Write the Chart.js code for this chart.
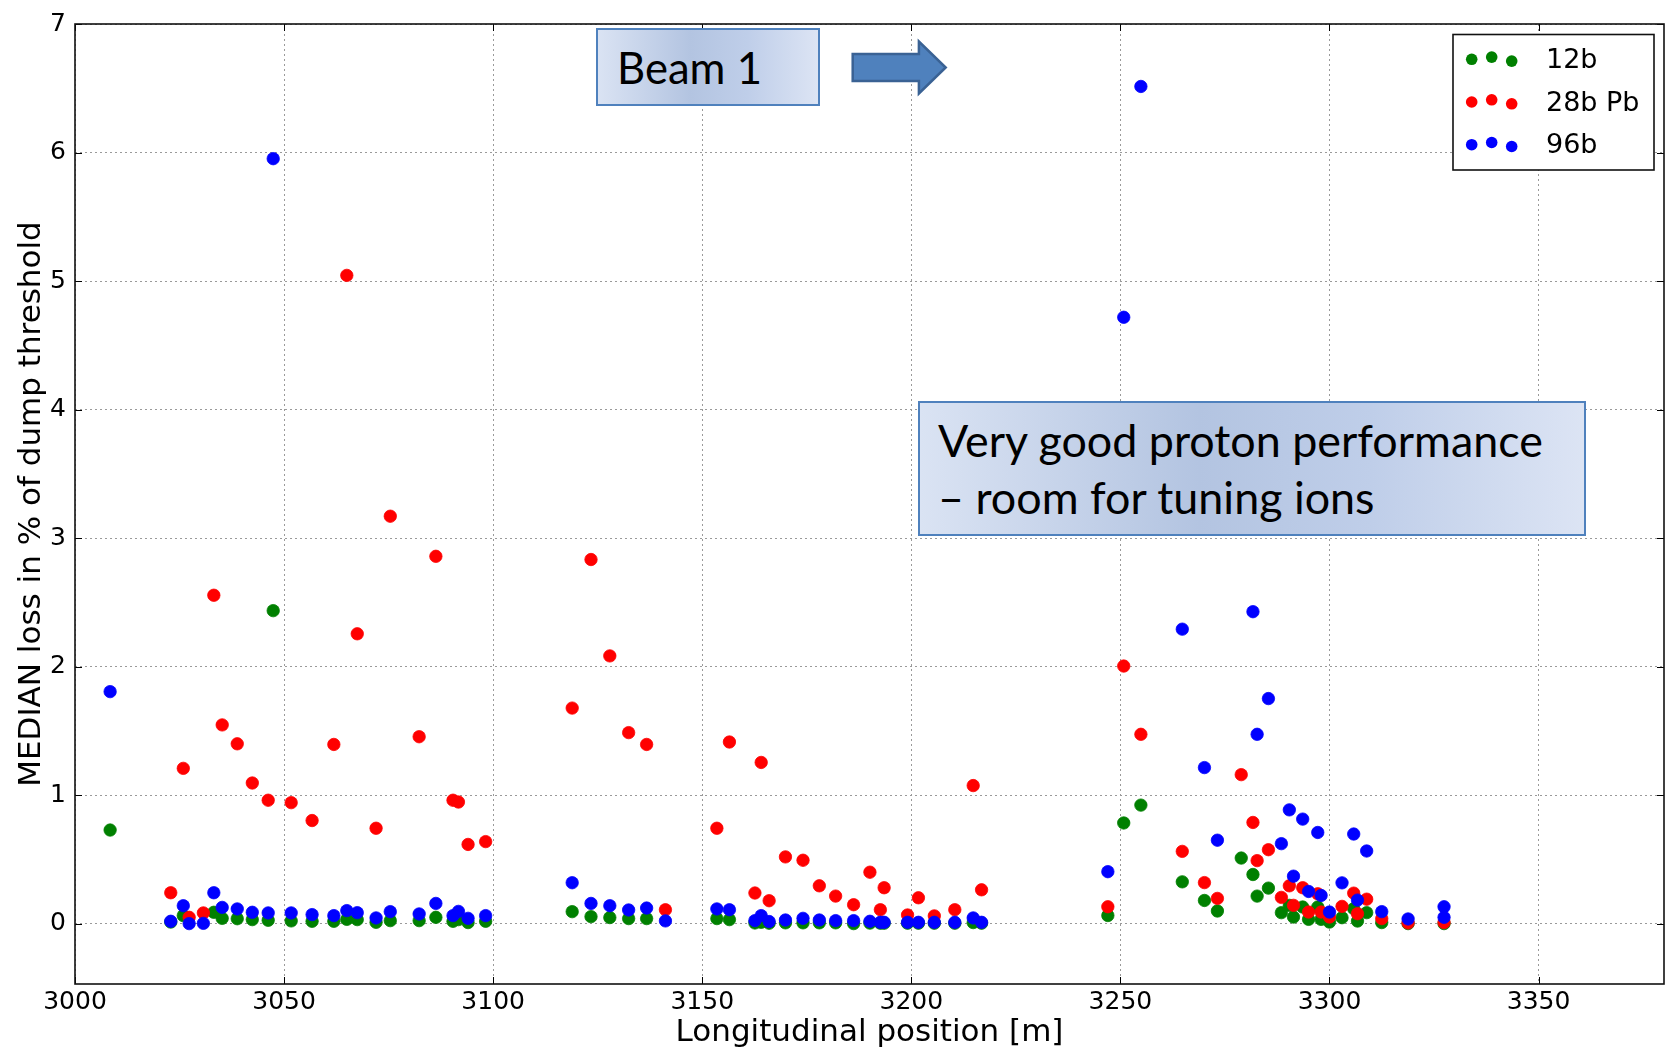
<!DOCTYPE html>
<html>
<head>
<meta charset="utf-8">
<title>Median loss vs longitudinal position</title>
<script src="https://cdn.jsdelivr.net/npm/chart.js@4.4.1/dist/chart.umd.min.js"></script>
<style>
  html, body { margin: 0; padding: 0; background: #fff; }
  #wrap { position: relative; width: 1671px; height: 1052px; overflow: hidden; }
  #chart { position: absolute; left: 0; top: 0; }
  .note {
    position: absolute; box-sizing: border-box; border: 2px solid #4f81bd;
    background: linear-gradient(90deg, #dae3f3 0%, #b3c4e1 42%, #bfcee9 68%, #dce4f4 100%);
    font-family: Lato, "Open Sans", sans-serif; color: #000;
    display: flex; align-items: center; white-space: nowrap;
  }
  #beam { left: 596px; top: 28px; width: 224px; height: 78px; padding-left: 19px; }
  #perf { left: 918px; top: 401px; width: 668px; height: 135px; padding-left: 18px; line-height: 56.5px; }
  #arrow { position: absolute; left: 0; top: 0; }
</style>
</head>
<body>
<div id="wrap">
  <canvas id="chart" width="1671" height="1052"></canvas>
  <div class="note" id="beam"><span id="beamText">Beam 1</span></div>
  <svg id="arrow" width="1671" height="120" viewBox="0 0 1671 120">
    <polygon points="852.7,54 918.9,54 918.9,41.5 945.7,67.5 918.9,93.5 918.9,81 852.7,81"
             fill="#4f81bd" stroke="#3a6294" stroke-width="2.5" stroke-linejoin="miter"/>
  </svg>
  <div class="note" id="perf"><div id="perfText">Very good proton performance<br>– room for tuning ions</div></div>
</div>
<script>
// Axis ticks
const xTicks = [3000, 3050, 3100, 3150, 3200, 3250, 3300, 3350];
const yTicks = [0, 1, 2, 3, 4, 5, 6, 7];

// 12b fill: monitor position [m] and median loss [% of dump threshold]
const pos12b = [3008.4, 3022.9, 3025.9, 3033.2, 3035.2, 3038.8, 3042.4, 3046.2, 3047.4, 3051.7,
  3056.7, 3061.9, 3065.0, 3067.5, 3072.0, 3075.4, 3082.3, 3086.3, 3090.4, 3091.7,
  3094.0, 3098.2, 3118.9, 3123.4, 3127.9, 3132.4, 3136.7, 3153.5, 3156.5, 3162.6,
  3164.1, 3166.0, 3169.9, 3174.1, 3178.0, 3181.9, 3186.2, 3190.1, 3192.6, 3193.5,
  3199.1, 3201.7, 3205.5, 3210.4, 3214.8, 3216.8, 3247.0, 3250.8, 3254.9, 3264.8,
  3270.1, 3273.2, 3278.9, 3281.7, 3282.7, 3285.4, 3288.5, 3290.4, 3291.4, 3293.6,
  3295.0, 3297.2, 3298.0, 3300.0, 3303.0, 3305.8, 3306.7, 3308.9, 3312.5, 3318.8, 3327.4];
const loss12b = [0.728, 0.012, 0.062, 0.088, 0.041, 0.038, 0.031, 0.026, 2.435, 0.021,
  0.018, 0.018, 0.033, 0.031, 0.010, 0.023, 0.023, 0.049, 0.018, 0.031,
  0.008, 0.018, 0.093, 0.054, 0.047, 0.039, 0.039, 0.039, 0.031, 0.005,
  0.010, 0.003, 0.006, 0.006, 0.006, 0.006, 0.000, 0.004, 0.003, 0.003,
  0.003, 0.003, 0.003, 0.003, 0.008, 0.003, 0.063, 0.783, 0.922, 0.325,
  0.180, 0.098, 0.510, 0.382, 0.214, 0.276, 0.085, 0.142, 0.051, 0.129,
  0.033, 0.129, 0.033, 0.012, 0.046, 0.116, 0.020, 0.085, 0.008, 0.000, 0.000];

// 28b Pb fill
const pos28b = [3022.9, 3025.9, 3027.3, 3030.7, 3033.2, 3035.2, 3038.8, 3042.4, 3046.2, 3051.7,
  3056.7, 3061.9, 3065.0, 3067.5, 3072.0, 3075.4, 3082.3, 3086.3, 3090.4, 3091.7,
  3094.0, 3098.2, 3118.9, 3123.4, 3127.9, 3132.4, 3136.7, 3141.2, 3153.5, 3156.5,
  3162.6, 3164.1, 3166.0, 3169.9, 3174.1, 3178.0, 3181.9, 3186.2, 3190.1, 3192.6,
  3193.5, 3199.1, 3201.7, 3205.5, 3210.4, 3214.8, 3216.8, 3247.0, 3250.8, 3254.9,
  3264.8, 3270.1, 3273.2, 3278.9, 3281.7, 3282.7, 3285.4, 3288.5, 3290.4, 3291.4,
  3293.6, 3295.0, 3297.2, 3298.0, 3300.0, 3303.0, 3305.8, 3306.7, 3308.9, 3312.5,
  3318.8, 3327.4];
const loss28b = [0.240, 1.208, 0.049, 0.083, 2.555, 1.546, 1.399, 1.094, 0.960, 0.941,
  0.802, 1.394, 5.044, 2.255, 0.742, 3.170, 1.454, 2.858, 0.960, 0.946,
  0.616, 0.638, 1.677, 2.833, 2.083, 1.486, 1.394, 0.108, 0.742, 1.413,
  0.238, 1.254, 0.178, 0.519, 0.493, 0.294, 0.214, 0.147, 0.400, 0.108,
  0.279, 0.067, 0.201, 0.060, 0.108, 1.074, 0.263, 0.131, 2.004, 1.473,
  0.562, 0.319, 0.196, 1.159, 0.787, 0.490, 0.575, 0.204, 0.294, 0.142,
  0.279, 0.090, 0.232, 0.090, 0.051, 0.134, 0.237, 0.077, 0.190, 0.039,
  0.005, 0.008];

// 96b fill
const pos96b = [3008.4, 3022.9, 3025.9, 3027.3, 3030.7, 3033.2, 3035.2, 3038.8, 3042.4, 3046.2,
  3047.4, 3051.7, 3056.7, 3061.9, 3065.0, 3067.5, 3072.0, 3075.4, 3082.3, 3086.3,
  3090.4, 3091.7, 3094.0, 3098.2, 3118.9, 3123.4, 3127.9, 3132.4, 3136.7, 3141.2,
  3153.5, 3156.5, 3162.6, 3164.1, 3166.0, 3169.9, 3174.1, 3178.0, 3181.9, 3186.2,
  3190.1, 3192.6, 3193.5, 3199.1, 3201.7, 3205.5, 3210.4, 3214.8, 3216.8, 3247.0,
  3250.8, 3254.9, 3264.8, 3270.1, 3273.2, 3281.7, 3282.7, 3285.4, 3288.5, 3290.4,
  3291.4, 3293.6, 3295.0, 3297.2, 3298.0, 3300.0, 3303.0, 3305.8, 3306.7, 3308.9,
  3312.5, 3318.8, 3327.4, 3327.4];
const loss96b = [1.805, 0.018, 0.139, 0.000, 0.002, 0.240, 0.126, 0.114, 0.088, 0.083,
  5.952, 0.083, 0.070, 0.062, 0.101, 0.085, 0.044, 0.093, 0.075, 0.157,
  0.062, 0.095, 0.041, 0.062, 0.318, 0.157, 0.139, 0.106, 0.121, 0.021,
  0.114, 0.108, 0.023, 0.062, 0.016, 0.028, 0.041, 0.028, 0.023, 0.023,
  0.018, 0.010, 0.010, 0.010, 0.010, 0.010, 0.010, 0.044, 0.010, 0.404,
  4.718, 6.514, 2.291, 1.214, 0.649, 2.427, 1.473, 1.751, 0.622, 0.885,
  0.369, 0.813, 0.250, 0.709, 0.219, 0.090, 0.317, 0.697, 0.183, 0.565,
  0.093, 0.036, 0.131, 0.049];

const toPoints = (xs, ys) => xs.map((x, i) => ({ x: x, y: ys[i] }));

// Size the annotation text to its box width
function fitFont(el, text, target) {
  const c = document.createElement('canvas').getContext('2d');
  c.font = '100px Lato';
  const w = c.measureText(text).width;
  el.style.fontSize = (100 * target / w).toFixed(2) + 'px';
}
fitFont(document.getElementById('beamText'), 'Beam 1', 145);
fitFont(document.getElementById('perfText'), 'Very good proton performance', 606);

// Full box frame with inward tick marks on all four sides
const framePlugin = {
  id: 'frame',
  afterDatasetsDraw(chart) {
    const { ctx, chartArea: a, scales: { x, y } } = chart;
    const L = 7;
    ctx.save();
    ctx.strokeStyle = '#000';
    ctx.lineWidth = 1;
    ctx.beginPath();
    xTicks.forEach(v => {
      const px = Math.round(x.getPixelForValue(v)) + 0.5;
      ctx.moveTo(px, a.bottom); ctx.lineTo(px, a.bottom - L);
      ctx.moveTo(px, a.top); ctx.lineTo(px, a.top + L);
    });
    yTicks.forEach(v => {
      const py = Math.round(y.getPixelForValue(v)) + 0.5;
      ctx.moveTo(a.left, py); ctx.lineTo(a.left + L, py);
      ctx.moveTo(a.right, py); ctx.lineTo(a.right - L, py);
    });
    ctx.stroke();
    ctx.lineWidth = 1.6;
    ctx.strokeStyle = '#111';
    ctx.strokeRect(a.left, a.top, a.right - a.left, a.bottom - a.top);
    ctx.restore();
  }
};

// Legend box in the upper right corner, three markers per entry
const legendPlugin = {
  id: 'boxLegend',
  afterDraw(chart) {
    const ctx = chart.ctx;
    const box = { x: 1453, y: 34.5, w: 201, h: 135.5 };
    const rowY = [59.3, 102, 144.7];
    const dotX = [1471.7, 1491.7, 1511.7];
    const dotDY = [0, -2.2, 1.8];
    const sets = [0, 1, 2].map(i => chart.data.datasets[i]);
    ctx.save();
    ctx.fillStyle = '#fff';
    ctx.fillRect(box.x, box.y, box.w, box.h);
    ctx.strokeStyle = '#111';
    ctx.lineWidth = 1.6;
    ctx.strokeRect(box.x, box.y, box.w, box.h);
    ctx.font = '27px "DejaVu Sans"';
    ctx.textBaseline = 'alphabetic';
    ctx.textAlign = 'left';
    sets.forEach((ds, r) => {
      ctx.fillStyle = ds.backgroundColor;
      dotX.forEach((dx, k) => {
        ctx.beginPath();
        ctx.arc(dx, rowY[r] + dotDY[k], 5.8, 0, Math.PI * 2);
        ctx.fill();
      });
      ctx.fillStyle = '#000';
      ctx.fillText(ds.label, 1546, rowY[r] + 8.6);
    });
    ctx.restore();
  }
};

Chart.defaults.font.family = '"DejaVu Sans", sans-serif';
Chart.defaults.color = '#000';

new Chart(document.getElementById('chart'), {
  type: 'scatter',
  data: {
    datasets: [
      { label: '12b', data: toPoints(pos12b, loss12b), backgroundColor: '#008000', borderColor: '#008000', order: 3 },
      { label: '28b Pb', data: toPoints(pos28b, loss28b), backgroundColor: '#ff0000', borderColor: '#ff0000', order: 2 },
      { label: '96b', data: toPoints(pos96b, loss96b), backgroundColor: '#0000ff', borderColor: '#0000ff', order: 1 }
    ]
  },
  options: {
    responsive: false,
    devicePixelRatio: 1,
    animation: false,
    layout: { padding: { top: 19, right: 3, left: 0, bottom: 0 } },
    elements: { point: { radius: 6.2, borderWidth: 0.8, hoverRadius: 6.2 } },
    plugins: { legend: { display: false }, tooltip: { enabled: false } },
    scales: {
      x: {
        type: 'linear', min: 3000, max: 3380,
        afterBuildTicks: s => { s.ticks = xTicks.map(v => ({ value: v })); },
        afterFit: s => { s.height = 68; },
        ticks: { font: { size: 25 }, padding: 3, autoSkip: false, maxRotation: 0, callback: v => String(v) },
        grid: { color: '#9a9a9a', lineWidth: 1, drawTicks: false },
        border: { display: false, dash: [2, 3] },
        title: { display: true, text: 'Longitudinal position [m]', font: { size: 31 }, padding: { top: 0, bottom: 0 } }
      },
      y: {
        type: 'linear', min: -0.47, max: 7,
        afterBuildTicks: s => { s.ticks = yTicks.map(v => ({ value: v })); },
        afterFit: s => { s.width = 75; },
        ticks: { font: { size: 25 }, padding: 9, callback: v => String(v) },
        grid: { color: '#9a9a9a', lineWidth: 1, drawTicks: false },
        border: { display: false, dash: [2, 3] },
        title: { display: true, text: 'MEDIAN loss in % of dump threshold', font: { size: 31 }, padding: { top: 13, bottom: 0 } }
      }
    }
  },
  plugins: [framePlugin, legendPlugin]
});
</script>
</body>
</html>
